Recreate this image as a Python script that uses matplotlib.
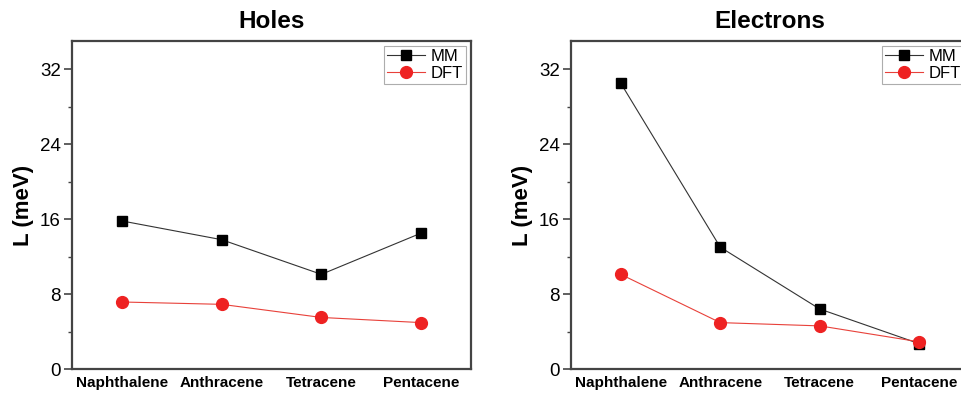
import matplotlib
matplotlib.use("Agg")
import matplotlib.pyplot as plt
from matplotlib.ticker import MultipleLocator

plt.rcParams['font.family'] = ['Liberation Sans', 'DejaVu Sans']

molecules = ['Naphthalene', 'Anthracene', 'Tetracene', 'Pentacene']

holes_mm = [15.8, 13.8, 10.1, 14.5]
holes_dft = [7.15, 6.9, 5.5, 4.95]

electrons_mm = [30.5, 13.0, 6.4, 2.7]
electrons_dft = [10.1, 4.95, 4.6, 2.9]

yticks = [0, 8, 16, 24, 32]


def draw_panel(ax, title, mm, dft):
    x = range(len(molecules))
    ax.plot(x, mm, color='#333333', lw=0.8, marker='s', markersize=7.5,
            markerfacecolor='black', markeredgecolor='black', label='MM')
    ax.plot(x, dft, color='#e8413a', lw=0.8, marker='o', markersize=8.5,
            markerfacecolor='#ee2222', markeredgecolor='#ee2222', label='DFT')
    ax.set_xlim(-0.5, 3.5)
    ax.set_ylim(0, 35)
    ax.set_xticks(list(x))
    ax.set_xticklabels(molecules, fontsize=11, fontweight='bold')
    ax.tick_params(axis='x', length=0, pad=5)
    ax.set_yticks(yticks)
    ax.yaxis.set_minor_locator(MultipleLocator(4))
    ax.tick_params(axis='y', which='major', labelsize=13.5, length=6, width=1.2,
                   color='#444444', pad=2)
    ax.tick_params(axis='y', which='minor', length=3, width=1, color='#444444')
    for s in ax.spines.values():
        s.set_linewidth(1.6)
        s.set_color('#444444')
    ax.set_ylabel('L (meV)', fontsize=16, fontweight='bold', labelpad=4)
    ax.set_title(title, fontsize=17.5, fontweight='bold', pad=9)
    leg = ax.legend(loc='upper right', fontsize=12, frameon=True, fancybox=False,
                    borderaxespad=0.3, handlelength=2.3, borderpad=0.2,
                    labelspacing=0.1, handletextpad=0.3)
    leg.get_frame().set_edgecolor('#999999')
    leg.get_frame().set_linewidth(0.8)


fig = plt.figure(figsize=(9.61, 3.93), dpi=100)
W, H = 961, 393
ax1 = fig.add_axes([72 / W, 1 - 369 / H, 399 / W, 328 / H])
ax2 = fig.add_axes([571 / W, 1 - 369 / H, 398 / W, 328 / H])

draw_panel(ax1, 'Holes', holes_mm, holes_dft)
draw_panel(ax2, 'Electrons', electrons_mm, electrons_dft)

fig.savefig('out.png', dpi=100)
